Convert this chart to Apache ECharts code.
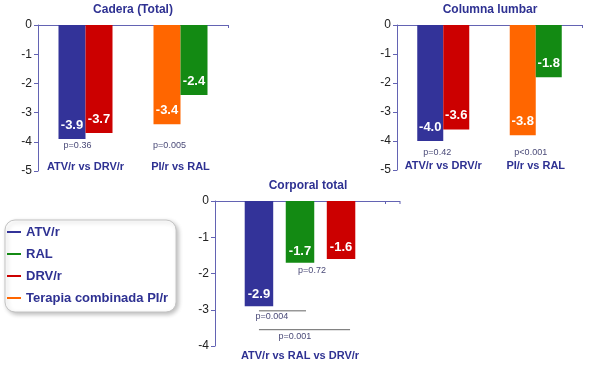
<!DOCTYPE html>
<html><head><meta charset="utf-8">
<script src="https://cdn.jsdelivr.net/npm/echarts@6/dist/echarts.min.js"></script>
<style>html,body{margin:0;padding:0;background:#fff}#c{width:593px;height:368px}</style>
</head><body><div id="c"></div>
<script>
// ---------- data ----------
const seriesNames = ['ATV/r', 'RAL', 'DRV/r', 'Terapia combinada PI/r'];
const titles = ['Cadera (Total)', 'Columna lumbar', 'Corporal total'];
const topCategories = ['ATV/r vs DRV/r', 'PI/r vs RAL'];
const bottomCategories = ['ATV/r vs RAL vs DRV/r'];
// Cadera (Total): left bars = [ATV/r, PI/r], right bars = [DRV/r, RAL]
const caderaLeft = [-3.9, -3.4];
const caderaRight = [-3.7, -2.4];
// Columna lumbar
const lumbarLeft = [-4.0, -3.8];
const lumbarRight = [-3.6, -1.8];
// Corporal total: ATV/r, RAL, DRV/r
const corporalATV = [-2.9];
const corporalRAL = [-1.7];
const corporalDRV = [-1.6];
// p-values
const caderaP = ['p=0.36', 'p=0.005'];
const lumbarP = ['p=0.42', 'p<0.001'];
const corporalP = ['p=0.004', 'p=0.001', 'p=0.72'];
// y-axis ranges (ticks every 1)
const topYMin = -5, bottomYMin = -4, yMax = 0, yStep = 1;

// ---------- style ----------
const C = { 'ATV/r': '#333399', 'RAL': '#138a13', 'DRV/r': '#cc0000', 'Terapia combinada PI/r': '#ff6600' };
const axisColor = '#6363b3';
const navy = '#2e3192';
const FONT = 'Liberation Sans, Arial, sans-serif';
const grids = [
  { left: 38, top: 25, width: 190, height: 146 },
  { left: 397, top: 25, width: 185, height: 145 },
  { left: 215, top: 201, width: 170, height: 145 }
];

const chart = echarts.init(document.getElementById('c'), null, { renderer: 'canvas' });

const valLabel = (dist, size) => ({
  show: true, position: 'insideBottom', distance: dist, color: '#fff',
  fontWeight: 'bold', fontSize: size, fontFamily: FONT,
  formatter: p => (typeof p.value === 'number' ? p.value.toFixed(1) : '')
});

function topSeries(g, left, right, bw) {
  const blank = '-';
  const mk = (name, stack, data) => ({
    name, type: 'bar', xAxisIndex: 2 * g, yAxisIndex: g, stack: stack + g,
    barWidth: bw, barGap: '0%', data, itemStyle: { color: C[name] },
    label: valLabel(7, 13), emphasis: { disabled: true }
  });
  return [
    mk('ATV/r', 'L', [left[0], blank]),
    mk('Terapia combinada PI/r', 'L', [blank, left[1]]),
    mk('DRV/r', 'R', [right[0], blank]),
    mk('RAL', 'R', [blank, right[1]])
  ];
}
function bottomSeries() {
  const mk = (name, data) => ({
    name, type: 'bar', xAxisIndex: 4, yAxisIndex: 2, barWidth: 28.5, barGap: '44%',
    data, itemStyle: { color: C[name] }, label: valLabel(5, 13), emphasis: { disabled: true }
  });
  return [mk('ATV/r', corporalATV), mk('RAL', corporalRAL), mk('DRV/r', corporalDRV)];
}

const xAxes = [], yAxes = [];
[topCategories, topCategories, bottomCategories].forEach((cats, g) => {
  xAxes.push({
    type: 'category', gridIndex: g, position: 'top', data: cats,
    axisLine: { onZero: false, lineStyle: { color: axisColor, width: 1 } },
    axisTick: { show: true, inside: true, length: 3, lineStyle: { color: axisColor } },
    axisLabel: { show: false }, splitLine: { show: false }
  });
  xAxes.push({
    type: 'category', gridIndex: g, position: 'bottom', data: cats,
    offset: g < 2 ? -18 : -4,
    axisLine: { show: false }, axisTick: { show: false }, splitLine: { show: false },
    axisLabel: { interval: 0, color: navy, fontWeight: 'bold', fontSize: 11, fontFamily: FONT, margin: 8 }
  });
  yAxes.push({
    type: 'value', gridIndex: g, min: g < 2 ? topYMin : bottomYMin, max: yMax, interval: yStep,
    axisLine: { show: true, lineStyle: { color: axisColor, width: 1 } },
    axisTick: { show: true, length: 4, lineStyle: { color: axisColor } },
    splitLine: { show: false },
    axisLabel: { color: '#222', fontSize: 12, fontFamily: FONT, margin: 6 }
  });
});

const titleCenters = [[133, 4], [490, 4], [308, 180]];

chart.setOption({
  animation: false,
  backgroundColor: '#fff',
  title: titles.map((t, i) => ({
    text: t, left: titleCenters[i][0], top: titleCenters[i][1], textAlign: 'center', padding: 0,
    textStyle: { color: navy, fontSize: 12, fontWeight: 'bold', fontFamily: FONT }
  })),
  legend: {
    data: seriesNames, orient: 'vertical', left: 5, top: 220,
    icon: 'rect', itemWidth: 14, itemHeight: 2, itemGap: 8, selectedMode: false,
    padding: [5, 8, 7, 2],
    backgroundColor: '#fff', borderColor: '#c4c4c4', borderWidth: 1, borderRadius: 10,
    shadowBlur: 4, shadowColor: 'rgba(0,0,0,0.25)', shadowOffsetX: 2, shadowOffsetY: 2,
    textStyle: { color: navy, fontSize: 13, fontWeight: 'bold', fontFamily: FONT, lineHeight: 14 }
  },
  grid: grids,
  xAxis: xAxes,
  yAxis: yAxes,
  series: [].concat(
    topSeries(0, caderaLeft, caderaRight, 27),
    topSeries(1, lumbarLeft, lumbarRight, 26),
    bottomSeries()
  )
});

// ---------- annotations (p-values, brackets) ----------
const pStyle = { fontSize: 9, fill: '#4a4a78', fontFamily: FONT, textAlign: 'center', textVerticalAlign: 'middle' };
const px = (g, cat, v) => chart.convertToPixel({ xAxisIndex: 2 * g, yAxisIndex: g }, [cat, v]);
const layoutOf = (si) => chart.getModel().getSeriesByIndex(si).getData().getItemLayout(0);
const center = (si) => { const l = layoutOf(si); return l.x + l.width / 2; };

const gfx = [];
const txt = (x, y, s) => gfx.push({ type: 'text', x, y, style: Object.assign({ text: s }, pStyle), silent: true });
const ln = (x1, y1, x2, y2) => gfx.push({ type: 'line', shape: { x1, y1, x2, y2 }, style: { stroke: '#666', lineWidth: 1 }, silent: true });

// Cadera
let p = px(0, 0, -4.14); txt(p[0] - 8, p[1], caderaP[0]);
p = px(0, 1, -4.14); txt(p[0] - 11, p[1], caderaP[1]);
// Columna lumbar
p = px(1, 0, -4.38); txt(p[0] - 6, p[1], lumbarP[0]);
p = px(1, 1, -4.38); txt(p[0] - 5, p[1], lumbarP[1]);
// Corporal total (series 8 = ATV/r, 9 = RAL, 10 = DRV/r)
const bC = center(8), gC = center(9), rC = center(10);
const yb = v => px(2, 0, v)[1];
ln(bC, yb(-3.03), gC + 6, yb(-3.03));
txt(bC + 13, yb(-3.2), corporalP[0]);
ln(bC, yb(-3.55), rC + 9, yb(-3.55));
txt(bC + 36, yb(-3.75), corporalP[1]);
txt(gC + 12, yb(-1.93), corporalP[2]);
// extension of the bottom chart's zero line
const g2 = grids[2];
gfx.push({ type: 'line', shape: { x1: g2.left + g2.width, y1: g2.top + 0.5, x2: g2.left + g2.width + 15, y2: g2.top + 0.5 }, style: { stroke: axisColor, lineWidth: 1 }, silent: true });
gfx.push({ type: 'line', shape: { x1: g2.left + g2.width + 15, y1: g2.top, x2: g2.left + g2.width + 15, y2: g2.top + 3 }, style: { stroke: axisColor, lineWidth: 1 }, silent: true });

chart.setOption({ graphic: gfx });
</script>
</body></html>
